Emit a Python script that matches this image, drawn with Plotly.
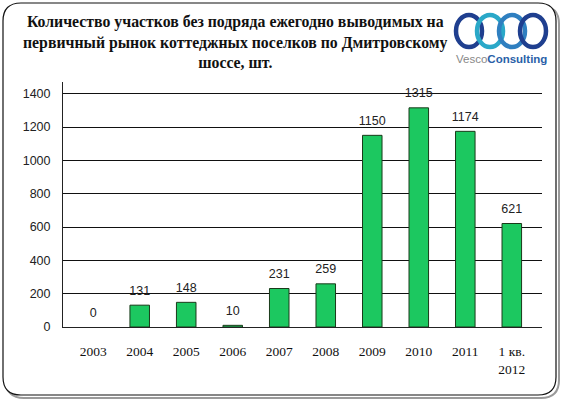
import plotly.graph_objects as go

categories = ["2003", "2004", "2005", "2006", "2007", "2008", "2009", "2010", "2011", "1 кв.<br>2012"]
values = [0, 131, 148, 10, 231, 259, 1150, 1315, 1174, 621]
yticks = [0, 200, 400, 600, 800, 1000, 1200, 1400]
title_text = ("Количество участков без подряда ежегодно выводимых на<br>"
              "первичный рынок коттеджных поселков по Дмитровскому<br>шоссе, шт.")

W, H = 562, 405
ML, MR, MT, MB = 63, 20, 82, 78
PW, PH = W - ML - MR, H - MT - MB

def px(x):
    return (x - ML) / PW

def py(y):
    return (H - MB - y) / PH

serif = "Liberation Serif, Times New Roman, serif"
sans = "Liberation Sans, Arial, sans-serif"

fig = go.Figure()
fig.add_trace(go.Bar(
    x=categories, y=values,
    marker=dict(color="#1cc860", line=dict(color="#1a3a1a", width=[0 if v == 0 else 1 for v in values])),
    width=0.42, hoverinfo="x+y",
))
fig.add_trace(go.Scatter(
    x=categories, y=values, mode="markers+text",
    marker=dict(size=10, opacity=0),
    text=[str(v) for v in values], textposition="top center",
    textfont=dict(family=sans, size=12.5, color="#222"),
    cliponaxis=False, hoverinfo="skip",
))

def rounded(x0, y0, x1, y1, r):
    return (f"M {px(x0+r)},{py(y0)} L {px(x1-r)},{py(y0)} Q {px(x1)},{py(y0)} {px(x1)},{py(y0+r)} "
            f"L {px(x1)},{py(y1-r)} Q {px(x1)},{py(y1)} {px(x1-r)},{py(y1)} "
            f"L {px(x0+r)},{py(y1)} Q {px(x0)},{py(y1)} {px(x0)},{py(y1-r)} "
            f"L {px(x0)},{py(y0+r)} Q {px(x0)},{py(y0)} {px(x0+r)},{py(y0)} Z")

shapes = [
    dict(type="path", xref="paper", yref="paper", path=rounded(6, 6, 559, 398, 18),
         line=dict(color="#9a9a9a", width=2), fillcolor="rgba(0,0,0,0)", layer="below"),
    dict(type="path", xref="paper", yref="paper", path=rounded(3, 3, 556, 395, 18),
         line=dict(color="#111", width=1.2), fillcolor="white", layer="below"),
]
logo = [(469, 31, "#1f3f8f"), (490, 31, "#2aa8c8"), (512, 31, "#2f7fc0"), (533, 31, "#1f3f8f")]
for cx, cy, col in logo:
    shapes.append(dict(type="circle", xref="paper", yref="paper",
                       x0=px(cx - 13), x1=px(cx + 13), y0=py(cy - 16), y1=py(cy + 16),
                       line=dict(color=col, width=4.5)))

fig.update_layout(
    width=W, height=H,
    margin=dict(l=ML, r=MR, t=MT, b=MB),
    paper_bgcolor="rgba(0,0,0,0)",
    plot_bgcolor="#ffffcc",
    showlegend=False,
    shapes=shapes,
    annotations=[
        dict(text="<b>" + title_text + "</b>", xref="paper", yref="paper",
             x=px(235), y=py(11), xanchor="center", yanchor="top", showarrow=False,
             font=dict(family=serif, size=15.8, color="#111"), align="center"),
        dict(text="<span style='color:#888'>Vesco</span><b><span style='color:#2a5fa8'>Consulting</span></b>",
             xref="paper", yref="paper", x=px(501), y=py(59), xanchor="center", yanchor="middle",
             showarrow=False, font=dict(family=sans, size=11.5)),
    ],
    xaxis=dict(showline=True, linecolor="#222", linewidth=1, ticks="",
               tickfont=dict(family=serif, size=13.5, color="#111"),
               ticklabelstandoff=12, showgrid=False),
    yaxis=dict(range=[0, 1470], tickvals=yticks, showgrid=True, gridcolor="#111", gridwidth=1,
               showline=True, linecolor="#222", linewidth=1, ticks="",
               tickfont=dict(family=sans, size=12.5, color="#222"), ticklabelstandoff=9,
               zeroline=False),
)
fig.write_html("out.html")
